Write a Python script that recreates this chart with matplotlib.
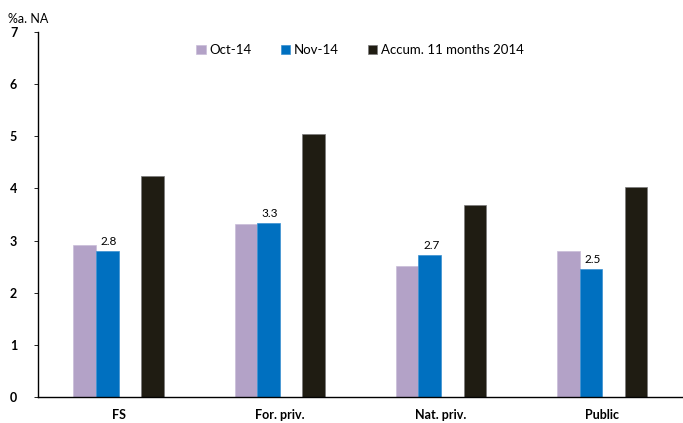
import matplotlib.pyplot as plt
import numpy as np

plt.rcParams['font.family'] = ['Lato', 'DejaVu Sans']

categories = ["FS", "For. priv.", "Nat. priv.", "Public"]
oct14 = [2.92, 3.31, 2.52, 2.80]
nov14 = [2.8, 3.34, 2.72, 2.46]
accum = [4.24, 5.04, 3.69, 4.03]
series_names = ["Oct-14", "Nov-14", "Accum. 11 months 2014"]
colors = ["#b3a2c7", "#0070c0", "#1f1c12"]

fig = plt.figure(figsize=(6.83, 4.23), dpi=100)
ax = fig.add_axes([0.0556, 0.0615, 0.944, 0.863])

x = np.arange(len(categories))
w = 0.14
ax.bar(x - 1.5 * w, oct14, w, color=colors[0], edgecolor="#c9bdd9", linewidth=0.5, label=series_names[0])
bars_nov = ax.bar(x - 0.5 * w, nov14, w, color=colors[1], edgecolor="#3a90d0", linewidth=0.5, label=series_names[1])
ax.bar(x + 1.5 * w, accum, w, color=colors[2], edgecolor="#7a7a7a", linewidth=0.5, label=series_names[2])

# value labels on the November bars
for b, v in zip(bars_nov, nov14):
    ax.text(b.get_x() + b.get_width() / 2 + 0.01, v + 0.07, f"{v:.1f}",
            ha="center", va="bottom", fontsize=8.5)

ax.set_xlim(-0.5, 3.5)
ax.set_ylim(0, 7)
ax.set_yticks(range(0, 8))
ax.set_xticks(x)
ax.set_xticklabels(categories, fontweight="bold", fontsize=9)
for lbl in ax.get_yticklabels():
    lbl.set_fontweight("bold")
    lbl.set_fontsize(9)
ax.tick_params(axis="x", length=0, pad=9)
ax.tick_params(axis="y", length=3, width=0.6, pad=12)

for side in ["top", "right"]:
    ax.spines[side].set_visible(False)
ax.spines["left"].set_linewidth(1.0)
ax.spines["bottom"].set_linewidth(1.0)

ax.legend(loc="upper center", bbox_to_anchor=(0.5, 1.0), ncol=3, frameon=False,
          fontsize=9.5, handlelength=0.7, handleheight=0.7, handletextpad=0.3,
          columnspacing=2.2)

fig.text(0.012, 0.955, "%a. NA", fontsize=9, va="center")

fig.savefig("out.png", dpi=100)
